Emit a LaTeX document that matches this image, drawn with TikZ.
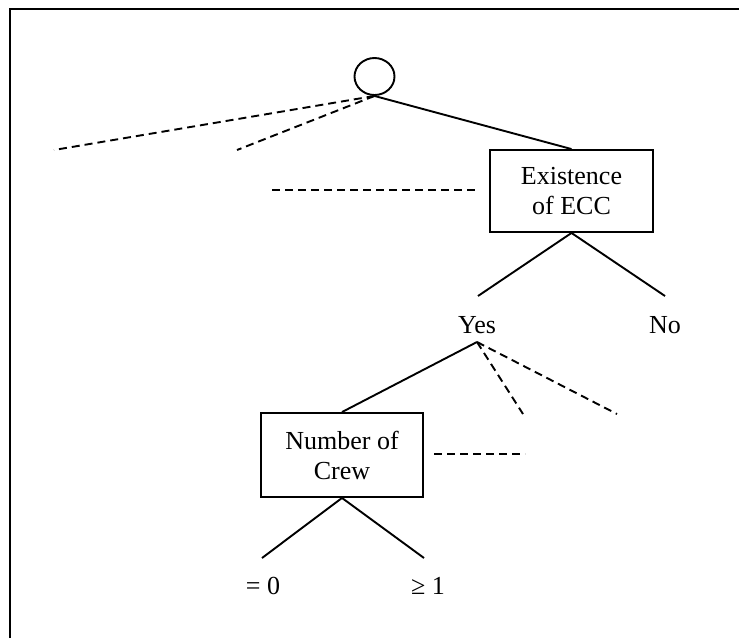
\documentclass[tikz,border=0pt]{standalone}
\usepackage{fontspec}
\setmainfont{Liberation Serif}
\usetikzlibrary{shapes.geometric}

\begin{document}
\begin{tikzpicture}[
    x=1pt, y=-1pt,
    every node/.append style={font=\fontsize{26}{30}\selectfont},
    branch/.style={line width=1.9pt},
    lopped/.style={line width=1.9pt, dash pattern=on 8pt off 5pt},
    attrbox/.style={draw, line width=1.9pt, align=center, inner sep=0pt},
  ]
  \useasboundingbox (0,0) rectangle (739,638);
  \draw[line width=2.2pt] (10,638) -- (10,9) -- (739,9);

  % root and first split
  \node[draw, ellipse, line width=1.9pt, minimum width=40pt, minimum height=37pt, inner sep=0pt] (chance) at (374.5,76.5) {};
  \node[attrbox, minimum width=163pt, minimum height=82pt] (ecc) at (571.5,191) {Existence\\of ECC};
  \coordinate (cutA) at (54,150);
  \coordinate (cutB) at (237,150);
  \coordinate (cutC) at (272,190);
  \coordinate (cutCend) at (476,190);
  \draw[lopped] (chance.south) -- (cutA);
  \draw[lopped] (chance.south) -- (cutB);
  \draw[branch] (chance.south) -- (ecc.north);
  \draw[lopped] (cutC) -- (cutCend);

  % outcomes of ECC
  \node (yes) at (477,325) {Yes};
  \node (no) at (665,325) {No};
  \coordinate (yestop) at (478,296);
  \coordinate (notop) at (665,296);
  \coordinate (yesfoot) at (477,342);
  \draw[branch] (ecc.south) -- (yestop);
  \draw[branch] (ecc.south) -- (notop);

  % second split
  \node[attrbox, minimum width=162pt, minimum height=84pt] (crew) at (342,455) {Number of\\Crew};
  \coordinate (cutD) at (523,414);
  \coordinate (cutE) at (617,414);
  \coordinate (cutF) at (434,454);
  \coordinate (cutFend) at (525,454);
  \draw[branch] (yesfoot) -- (crew.north);
  \draw[lopped] (yesfoot) -- (cutD);
  \draw[lopped] (yesfoot) -- (cutE);
  \draw[lopped] (cutF) -- (cutFend);

  % outcomes of crew
  \node (zero) at (263,586) {= 0};
  \node (more) at (428,586) {≥ 1};
  \coordinate (zerotop) at (262,558);
  \coordinate (moretop) at (424,558);
  \draw[branch] (crew.south) -- (zerotop);
  \draw[branch] (crew.south) -- (moretop);
\end{tikzpicture}
\end{document}
